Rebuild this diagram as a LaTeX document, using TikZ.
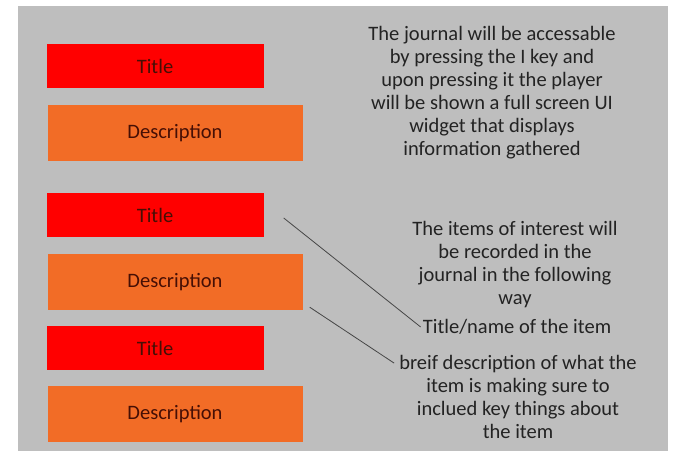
\documentclass[tikz,border=0pt]{standalone}
\usepackage{fontspec}
\setmainfont{Carlito}
\usepackage{xcolor}
\definecolor{panelgray}{RGB}{190,190,190}
\definecolor{boxred}{RGB}{255,0,0}
\definecolor{boxorange}{RGB}{242,108,38}
\definecolor{boxtext}{RGB}{70,15,5}
\definecolor{notetext}{RGB}{35,35,35}
\definecolor{pointer}{RGB}{70,70,70}

\begin{document}
\begin{tikzpicture}[x=1pt,y=-1pt,
		font=\fontsize{20.5}{23}\selectfont,
		titlebox/.style={rectangle,fill=boxred,text=boxtext,minimum width=217pt,minimum height=44pt,inner sep=0pt},
		descbox/.style={rectangle,fill=boxorange,text=boxtext,minimum width=255pt,minimum height=56pt,inner sep=0pt},
		note/.style={align=center,text=notetext,inner sep=2pt},
		pointer/.style={draw=pointer,line width=0.8pt}]
		\useasboundingbox (0,0) rectangle (675,454);
		\fill[panelgray] (18,6) rectangle (668,451);
		% entries of the journal
		\foreach \n/\y in {1/66,2/215,3/348}
			\node[titlebox] (title\n) at (155,\y) {Title};
		\foreach \n/\y in {1/133,2/282,3/414}
			\node[descbox] (desc\n) at (175,\y) {Description};
		% notes
		\node[note] (intro) at (492,93) {The journal will be accessable\\by pressing the I key and\\upon pressing it the player\\will be shown a full screen UI\\widget that displays\\information gathered};
		\node[note] (items) at (515,265) {The items of interest will\\be recorded in the\\journal in the following\\way};
		\node[note] (tname) at (517,327) {Title/name of the item};
		\node[note] (bdesc) at (518,397) {breif description of what the\\item is making sure to\\inclued key things about\\the item};
		\draw[pointer] ([shift={(20,3)}]title2.east) -- (tname.west);
		\draw[pointer] ([shift={(7,-3)}]desc2.south east) -- ([shift={(-3,10)}]bdesc.north west);
	\end{tikzpicture}
\end{document}
